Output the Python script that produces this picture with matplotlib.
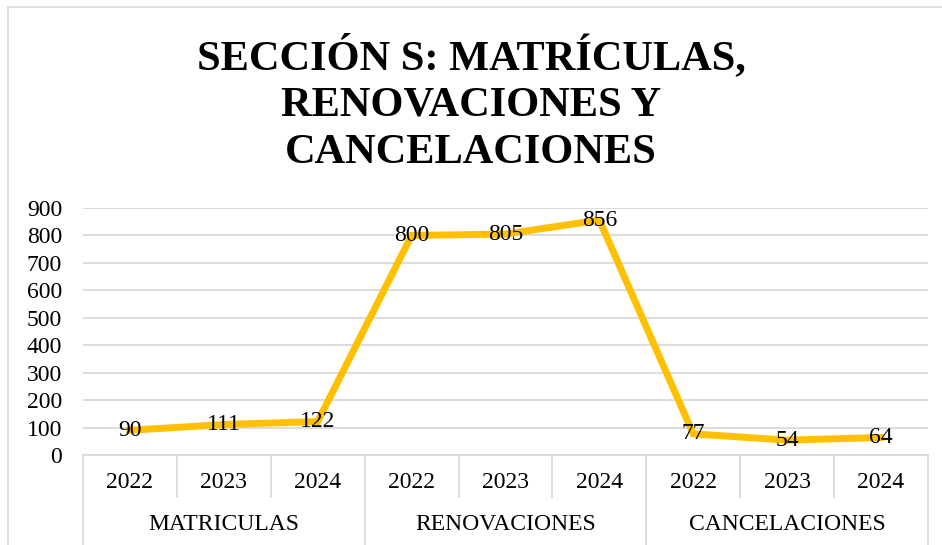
import matplotlib
matplotlib.use("Agg")
import matplotlib.pyplot as plt
from matplotlib.lines import Line2D

# data
groups = ["MATRICULAS", "RENOVACIONES", "CANCELACIONES"]
years = ["2022", "2023", "2024"]
values = [90, 111, 122, 800, 805, 856, 77, 54, 64]
title = "SECCIÓN S: MATRÍCULAS,\nRENOVACIONES Y\nCANCELACIONES"

plt.rcParams["font.family"] = ["Liberation Serif", "DejaVu Serif"]

W, H = 942, 545
fs = 17
fig = plt.figure(figsize=(W / 100, H / 100), dpi=100)
ax = fig.add_axes([83 / W, 1 - 455 / H, (928 - 83) / W, (455 - 208) / H])

x = list(range(len(values)))
ax.plot(x, values, color="#FFC000", lw=5, solid_joinstyle="miter", zorder=3)
for xi, v in zip(x, values):
    ax.text(xi, v, str(v), ha="center", va="center", fontsize=fs, zorder=4)

ax.set_xlim(-0.5, len(values) - 0.5)
ax.set_ylim(0, 900)
ax.set_yticks(range(0, 901, 100))
ax.tick_params(axis="y", length=0, pad=15, labelsize=fs)
ax.set_xticks([])
ax.grid(axis="y", color="#D9D9D9", lw=1.3)
ax.set_axisbelow(True)
for s in ax.spines.values():
    s.set_visible(False)

# multi-level category axis
tr = ax.get_xaxis_transform()
line_kw = dict(color="#D9D9D9", lw=1.3, transform=tr, clip_on=False)
ax.add_line(Line2D([-0.5, len(values) - 0.5], [0, 0], **line_kw))
y_year = -42 / 247
y_grp = -92 / 247
n = len(years)
for i in range(len(values) + 1):
    edge = i - 0.5
    bottom = y_grp if i % n == 0 else y_year
    ax.add_line(Line2D([edge, edge], [0, bottom], **line_kw))
for i, v in enumerate(values):
    ax.text(i, -28 / 247, years[i % n], transform=tr, ha="center", va="center", fontsize=fs)
for g, name in enumerate(groups):
    ax.text(g * n + (n - 1) / 2, -70 / 247, name, transform=tr,
            ha="center", va="center", fontsize=fs)

fig.text(0.5, 1 - 103 / H, title, ha="center", va="center", fontsize=30.5,
         fontweight="bold", linespacing=1.3)

# chart border
fig.add_artist(Line2D([8 / W, 8 / W], [0, 1 - 7 / H], color="#D9D9D9", lw=1.2,
                      transform=fig.transFigure))
fig.add_artist(Line2D([8 / W, 1], [1 - 7 / H, 1 - 7 / H], color="#D9D9D9", lw=1.2,
                      transform=fig.transFigure))

fig.savefig("out.png", dpi=100)
